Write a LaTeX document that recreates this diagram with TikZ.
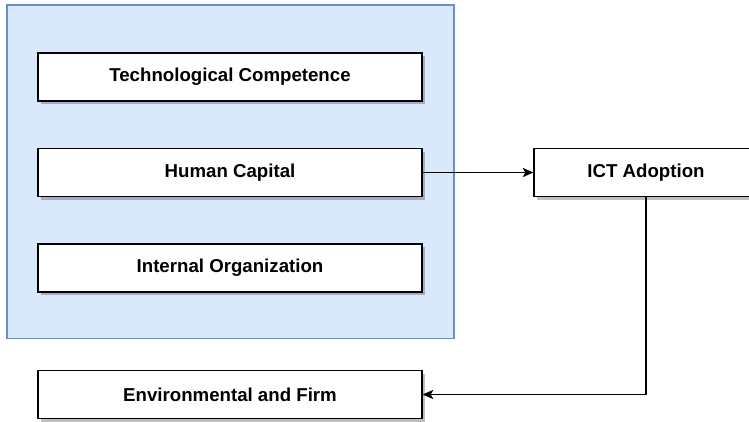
\documentclass[tikz,border=0pt]{standalone}
\usepackage{fontspec}
\setmainfont{Liberation Sans}
\usetikzlibrary{arrows.meta,shadows}

\definecolor{grpfill}{RGB}{218,232,252}
\definecolor{grpline}{RGB}{108,142,191}

\tikzset{
  factor/.style={draw=black, fill=white, line width=1pt, minimum width=288pt, minimum height=36pt,
    inner sep=0pt, font=\fontsize{14}{16}\selectfont\bfseries,
    drop shadow={shadow xshift=2pt, shadow yshift=-2.5pt, fill=black, opacity=0.25}},
  conn/.style={draw=black, line width=0.8pt, -{Stealth[length=8pt,width=7pt,inset=2pt]}}
}

\begin{document}
\begin{tikzpicture}[x=0.75pt,y=0.75pt,yscale=-1,xscale=1]
\useasboundingbox (0,0) rectangle (749,421);

%Shape: group background
\path [fill=grpfill, draw=grpline, line width=0.9pt] (7,5) rectangle (454,338.5);

% factor boxes
\node [factor] (tech) at (230,77) {Technological Competence};
\node [factor] (hcap) at (230,172.5) {Human Capital};
\node [factor] (intorg) at (230,268) {Internal Organization};
\node [factor] (envfirm) at (230,394.5) {Environmental and Firm};
\node [factor, minimum width=168pt] (ict) at (646,172.5) {ICT Adoption};

% connectors
\draw [conn] (hcap) -- (ict);
\draw [conn] (ict.south) |- (envfirm.east);

\end{tikzpicture}
\end{document}
